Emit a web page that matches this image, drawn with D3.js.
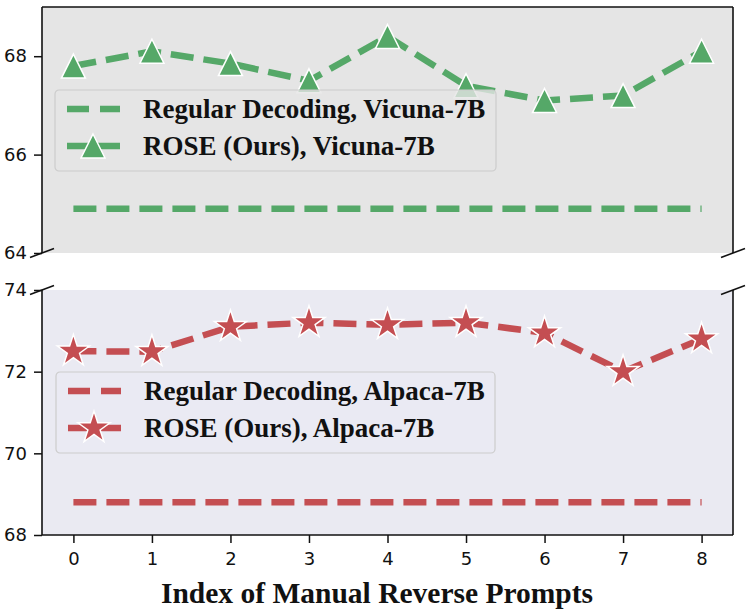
<!DOCTYPE html>
<html>
<head>
<meta charset="utf-8">
<script src="https://cdn.jsdelivr.net/npm/d3@7"></script>
<style>
  body { margin: 0; background: #fff; }
  svg { display: block; }
</style>
</head>
<body>
<div id="chart"></div>
<script>
// values
const promptIndex = [0, 1, 2, 3, 4, 5, 6, 7, 8];
const vicunaRegular = [64.9, 64.9, 64.9, 64.9, 64.9, 64.9, 64.9, 64.9, 64.9];
const vicunaRose = [67.8, 68.1, 67.85, 67.5, 68.4, 67.4, 67.1, 67.2, 68.1];
const alpacaRegular = [68.8, 68.8, 68.8, 68.8, 68.8, 68.8, 68.8, 68.8, 68.8];
const alpacaRose = [72.5, 72.49, 73.1, 73.2, 73.15, 73.2, 72.95, 72.0, 72.8];
const topTicks = [64, 66, 68];
const bottomTicks = [68, 70, 72, 74];
const legendTop = ['Regular Decoding, Vicuna-7B', 'ROSE (Ours), Vicuna-7B'];
const legendBottom = ['Regular Decoding, Alpaca-7B', 'ROSE (Ours), Alpaca-7B'];
const xLabel = 'Index of Manual Reverse Prompts';

const w = 748, h = 614;
const left = 42, right = 733;
const green = '#55a868', red = '#c44e52';

const svg = d3.select('#chart').append('svg')
    .attr('width', w)
    .attr('height', h);

const xScale = d3.scaleLinear().domain([-0.4, 8.4]).range([left, right]);
const yTop = d3.scaleLinear().domain([64, 69]).range([253, 7]);
const yBot = d3.scaleLinear().domain([68, 74]).range([535, 290]);

// panel backgrounds
svg.append('rect').attr('x', left).attr('y', yTop(69))
    .attr('width', right - left).attr('height', yTop(64) - yTop(69))
    .attr('fill', '#e5e5e5');
svg.append('rect').attr('x', left).attr('y', yBot(74))
    .attr('width', right - left).attr('height', yBot(68) - yBot(74))
    .attr('fill', '#eaeaf2');

function styleAxis(g) {
    g.select('.domain').remove();
    g.selectAll('line').attr('stroke', '#111').attr('stroke-width', 1.5);
    g.selectAll('text')
        .attr('font-family', 'DejaVu Sans, sans-serif')
        .attr('font-size', 18)
        .attr('fill', '#111');
}

svg.append('g').attr('transform', 'translate(' + left + ',0)')
    .call(d3.axisLeft(yTop).tickValues(topTicks).tickFormat(d3.format('d')).tickSize(8).tickPadding(7))
    .call(styleAxis);
svg.append('g').attr('transform', 'translate(' + left + ',0)')
    .call(d3.axisLeft(yBot).tickValues(bottomTicks).tickFormat(d3.format('d')).tickSize(8).tickPadding(7))
    .call(styleAxis);
svg.append('g').attr('transform', 'translate(0,535)')
    .call(d3.axisBottom(xScale).tickValues(promptIndex).tickFormat(d3.format('d')).tickSize(8).tickPadding(9))
    .call(styleAxis);

// spines
const spine = (x1, y1, x2, y2) => svg.append('line')
    .attr('x1', x1).attr('y1', y1).attr('x2', x2).attr('y2', y2)
    .attr('stroke', '#111').attr('stroke-width', 1.6);
spine(left, yTop(69), right, yTop(69));
spine(left, yTop(69), left, yTop(64));
spine(right, yTop(69), right, yTop(64));
spine(left, yBot(74), left, yBot(68));
spine(right, yBot(74), right, yBot(68));
spine(left, yBot(68), right, yBot(68));

// break marks
[yTop(64), yBot(74)].forEach(y => {
    [left, right].forEach(x => spine(x - 12, y + 4.5, x + 12, y - 4.5));
});

const triangle = 'M0,-12L12,12L-12,12Z';
const star = d3.symbol().type(d3.symbolStar).size(320)();

function drawSeries(values, y, color, marker) {
    const line = d3.line().x((d, i) => xScale(promptIndex[i])).y(d => y(d));
    svg.append('path').datum(values)
        .attr('d', line)
        .attr('fill', 'none')
        .attr('stroke', color)
        .attr('stroke-width', 6.5)
        .attr('stroke-dasharray', '23,10');
    if (marker) {
        svg.selectAll(null).data(values).enter()
            .append('path')
            .attr('d', marker)
            .attr('transform', (d, i) => 'translate(' + xScale(promptIndex[i]) + ',' + y(d) + ')')
            .attr('fill', color)
            .attr('stroke', '#fff')
            .attr('stroke-width', 1.5);
    }
}

drawSeries(vicunaRegular, yTop, green, null);
drawSeries(vicunaRose, yTop, green, triangle);
drawSeries(alpacaRegular, yBot, red, null);
drawSeries(alpacaRose, yBot, red, star);

function legend(x, y, wd, labels, color, marker, bg) {
    const g = svg.append('g').attr('transform', 'translate(' + x + ',' + y + ')');
    g.append('rect').attr('width', wd).attr('height', 81).attr('rx', 4)
        .attr('fill', bg).attr('fill-opacity', 0.8)
        .attr('stroke', '#cccccc').attr('stroke-width', 1.2);
    labels.forEach((t, i) => {
        const cy = 19 + i * 37;
        g.append('line').attr('x1', 12).attr('x2', 65).attr('y1', cy).attr('y2', cy)
            .attr('stroke', color).attr('stroke-width', 6.5)
            .attr('stroke-dasharray', i === 0 ? '22,11' : null);
        if (i === 1) {
            g.append('path').attr('d', marker)
                .attr('transform', 'translate(38,' + cy + ')')
                .attr('fill', color).attr('stroke', '#fff').attr('stroke-width', 1.5);
        }
        g.append('text').attr('x', 88).attr('y', cy + 9)
            .attr('font-family', 'Liberation Serif, Times New Roman, serif')
            .attr('font-weight', 'bold')
            .attr('font-size', 27)
            .attr('fill', '#111')
            .text(t);
    });
}

legend(55, 90, 441, legendTop, green, triangle, '#e5e5e5');
legend(56, 372, 439, legendBottom, red, star, '#eaeaf2');

svg.append('text')
    .attr('x', 377).attr('y', 603)
    .attr('text-anchor', 'middle')
    .attr('font-family', 'Liberation Serif, Times New Roman, serif')
    .attr('font-weight', 'bold')
    .attr('font-size', 29.5)
    .attr('fill', '#111')
    .text(xLabel);
</script>
</body>
</html>
